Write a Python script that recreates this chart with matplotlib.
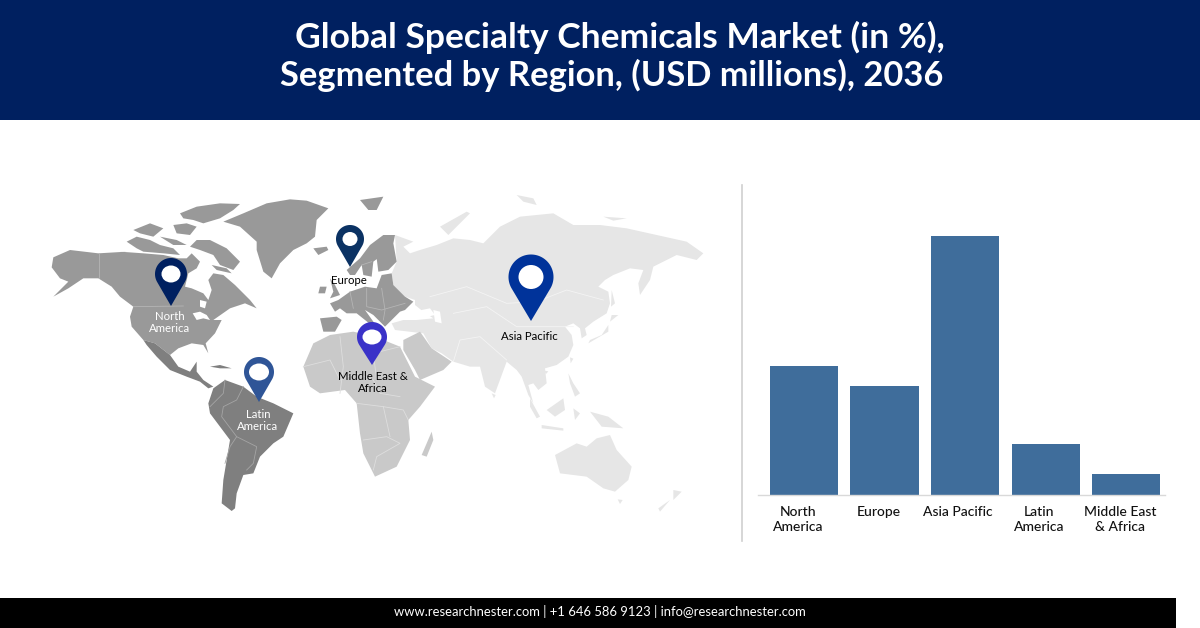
import numpy as np
import matplotlib
matplotlib.use('Agg')
import matplotlib.pyplot as plt
from matplotlib.patches import Polygon, Ellipse, Rectangle

plt.rcParams['font.family'] = ['Lato', 'DejaVu Sans']

title_lines = ['Global Specialty Chemicals Market (in %),',
               'Segmented by Region, (USD millions), 2036']
footer = 'www.researchnester.com | +1 646 586 9123 | info@researchnester.com'

regions = ['North\nAmerica', 'Europe', 'Asia Pacific', 'Latin\nAmerica', 'Middle East\n& Africa']
market = [129, 109, 259, 51, 21]

NA_COL = '#999999'
LA_COL = '#7f7f7f'
MEA_COL = '#c9c9c9'
APAC_COL = '#e6e6e6'

def crop(x0, y0, pts):
    return [(x0 + x / 3, y0 + y / 3) for x, y in pts]

def left(pts):
    return crop(40, 180, pts)

def right(pts):
    return crop(320, 180, pts)

def canada(pts):
    return crop(120, 190, pts)

def euro(pts):
    return crop(310, 220, pts)

north_america = left([(40,232),(90,210),(175,220),(260,215)]) + canada([(0,185),(70,190),(130,195),(175,205),(200,205),
    (215,190),(240,215),(230,235),(205,250),(195,290),(215,295),(250,310),(265,330),(275,300),(265,270),(280,250),
    (310,255),(345,285),(390,330),(410,355),(375,340)]) + left([(570,385),(520,420),(545,420),(525,460),(497,490),
    (505,520),(490,495),(455,490),(415,505),(390,525),(345,490),(310,480),(275,440),(270,410),(280,380),(240,350),
    (215,320),(175,295),(130,295),(85,325),(40,350),(85,305),(60,295),(35,262)])
greenland = canada([(310,95),(370,70),(440,40),(510,28)]) + left([(800,62),(865,85),(830,120),(825,170),(800,190),
    (760,210),(720,250),(695,295),(670,275),(650,210),(650,185),(600,140)])
arctic = [canada(p) for p in [
    [(180,70),(230,50),(300,40),(360,42),(340,60),(300,85),(250,100),(220,90),(190,85)],
    [(230,150),(270,150),(320,175),(360,215),(340,240),(300,225),(280,195),(240,180),(210,170)],
    [(160,105),(200,100),(230,110),(210,135),(170,130)],
    [(20,155),(50,140),(90,150),(120,165),(160,175),(180,195),(130,190),(70,185),(50,175)],
    [(40,120),(90,100),(130,115),(100,140),(60,130)],
    [(120,140),(170,150),(200,165),(160,165)],
    [(275,225),(320,235),(335,250),(290,240)]]]
lakes = [left(p) for p in [
    [(458,400),(480,395),(500,405),(510,420),(490,415),(470,420)],
    [(480,360),(500,365),(495,385),(480,380)]]]
mexico = left([(310,480),(345,490),(390,525),(415,560),(450,575),(470,545),(470,575),(490,600),(520,620),(505,625),
    (480,605),(440,590),(390,570),(350,530),(320,495)])
south_america = left([(520,625),(555,600),(610,620),(650,650),(700,670),(760,700),(730,770),(700,790),(660,830),
    (640,880),(610,885),(590,940),(585,985),(575,993),(545,970),(550,900),(570,780),(510,700),(505,670)])
caribbean = left([(510,560),(540,555),(575,565),(540,565)])

europe = [euro(p) for p in [
    [(30,295),(80,290),(95,300),(75,335),(40,335)],
    [(60,250),(85,240),(120,215),(165,200),(200,205),(215,165),(245,160),(250,195),(285,230),(310,245),(285,270),
     (270,275),(245,300),(225,320),(205,300),(190,285),(165,270),(195,312),(180,312),(140,280),(110,280),(90,265),(75,275)],
    [(120,165),(110,150),(150,115),(180,75),(220,45),(255,45),(250,70),(260,125),(235,150),(205,155),(200,115),(230,95),
     (190,125),(185,170),(160,165),(155,135),(135,165)],
    [(60,175),(75,195),(90,225),(60,235),(70,215)],
    [(30,200),(50,200),(45,220),(25,220)],
    [(10,85),(50,80),(55,90),(25,105)]]]
svalbard = right([(120,60),(190,50),(170,90),(145,90)])

africa = right([(-50,560),(-20,490),(30,465),(100,455),(165,470),(240,500),(285,590),(345,620),(300,680),(265,720),
    (270,780),(230,860),(165,890),(130,820),(120,760),(110,670),(75,630),(0,640),(-30,620)])
arabia = right([(250,480),(300,455),(335,505),(395,545),(370,570),(300,600),(285,570),(250,510)])
madagascar = right([(335,755),(340,780),(320,830),(305,825)])

asia = euro([(255,45),(310,65),(280,80),(300,100)]) + right([(300,210),(350,195),(400,175),(450,180),(490,190),
    (540,140),(600,110),(650,105),(700,100),(760,135),(840,135),(920,145),(1010,165),(1100,185),(1150,220),(1130,240),
    (1070,225),(1000,260),(990,300),(960,345),(955,310),(970,270),(930,265),(880,285),(855,300),(835,320),(865,335),
    (870,370),(860,400),(820,425),(795,445),(800,465),(785,475),(780,445),(760,430),(735,440),(755,465),(760,495),
    (745,530),(710,555),(675,565),(680,610),(655,630),(640,610),(625,615),(640,670),(625,645),(605,590),(590,570),
    (560,545),(525,640),(495,620),(480,560),(450,560),(400,545),(365,520),(335,505),(310,460),
    (225,450),(215,430),(250,420),(290,420),(340,415),(310,395),(285,375),(285,360)]) + euro([(285,230),(250,195),(245,160),(260,125)])
asia_bits = [right(p) for p in [
    [(630,655),(660,710),(650,715),(630,680)],
    [(665,735),(730,745),(730,752),(665,745)],
    [(680,690),(730,655),(735,690),(705,710)],
    [(760,685),(780,700),(765,720)],
    [(810,695),(865,710),(910,745),(845,740)],
    [(745,580),(760,610),(780,640),(765,650),(750,610)],
    [(705,825),(770,790),(800,800),(830,775),(870,765),(890,810),(935,860),(925,900),(885,935),(850,925),(800,890),(720,880)],
    [(893,958),(908,960),(900,972)],
    [(1060,930),(1085,935),(1060,960)],
    [(1050,960),(1020,995),(1015,985)],
    [(360,140),(440,95),(450,100),(385,165)],
    [(515,640),(527,645),(522,655)],
    [(750,532),(760,536),(752,550)],
    [(672,572),(685,574),(678,582)],
    [(590,45),(640,55),(650,75),(610,65)],
    [(850,110),(920,115),(880,122)],
    [(875,330),(885,370),(873,380)],
    [(875,405),(895,405),(870,425)],
    [(865,435),(845,465),(810,480),(805,490),(865,455)]]]
inland_seas = [right(p) for p in [
    [(280,395),(330,385),(345,405),(300,415)],
    [(340,390),(360,395),(365,430),(345,425)]]]

# thin country lines
borders = [
    (left([(178,220),(178,295)]), '#b5b5b5'),
    (left([(280,380),(430,378)]), '#b5b5b5'),
    (left([(555,600),(550,640),(510,680)]), '#a5a5a5'),
    (left([(610,620),(590,660),(550,680),(545,710),(590,770),(570,800),(555,850)]), '#a5a5a5'),
    (left([(590,770),(650,800),(640,850),(620,870)]), '#a5a5a5'),
    (right([(-50,560),(30,540),(60,600),(110,580),(160,600),(180,640),(240,650)]), '#dedede'),
    (right([(60,470),(70,560),(60,640)]), '#dedede'),
    (right([(240,500),(160,520),(170,600)]), '#dedede'),
    (right([(110,670),(190,680),(250,690),(265,720)]), '#dedede'),
    (right([(130,780),(200,770),(240,790),(170,830),(160,870)]), '#dedede'),
    (right([(190,680),(210,770)]), '#dedede'),
    (euro([(120,215),(130,265)]), '#b5b5b5'),
    (euro([(170,205),(170,260),(215,270),(285,250)]), '#b5b5b5'),
    (euro([(215,205),(225,270),(220,300)]), '#b5b5b5'),
    (euro([(155,135),(185,125)]), '#b5b5b5'),
    (right([(330,350),(440,320),(560,370),(650,365),(740,330),(850,360)]), '#f4f4f4'),
    (right([(400,400),(500,380),(590,440),(760,440)]), '#f4f4f4'),
    (right([(400,545),(420,480),(480,470),(560,540)]), '#f4f4f4'),
]

# cx, cy, radius, tip y, hole rx, hole ry, colour
pins = [
    (171, 274, 16, 306, 9.5, 8.5, '#002060'),
    (350, 239, 14, 267, 7.5, 7, '#0b3263'),
    (259, 372, 15, 402, 10, 8.5, '#2f5597'),
    (372, 337, 15, 365, 9.5, 7.5, '#3a32c8'),
    (531, 277, 22.5, 321, 12.5, 12, '#00339a'),
]

labels = [
    (170, 316, 'North', 'white'), (170, 328, 'America', 'white'),
    (349, 281, 'Europe', 'black'),
    (258, 414, 'Latin', 'white'), (258, 426, 'America', 'white'),
    (529, 336, 'Asia Pacific', 'black'),
    (373, 376, 'Middle East &', 'black'), (373, 388, 'Africa', 'black'),
]

def pin_outline(cx, cy, r, tip_y):
    # circle with the two tangents running down to the tip
    a = np.arccos(r / (tip_y - cy))
    t = np.linspace(np.pi / 2 + a, np.pi * 2.5 - a, 80)
    xs = cx + r * np.cos(t)
    ys = cy + r * np.sin(t)
    return np.vstack([[cx, tip_y], np.column_stack([xs, ys])])

fig = plt.figure(figsize=(12, 6.28), dpi=100)
ax = fig.add_axes([0, 0, 1, 1])
ax.set_xlim(0, 1200)
ax.set_ylim(628, 0)
ax.axis('off')

ax.add_patch(Rectangle((0, 0), 1200, 120, color='#002060', lw=0))
ax.add_patch(Rectangle((0, 598), 1176, 30, color='black', lw=0))

ax.text(620, 37.5, title_lines[0], color='white', fontsize=25.5, fontweight='bold', ha='center', va='center')
ax.text(612, 75.5, title_lines[1], color='white', fontsize=24.8, fontweight='bold', ha='center', va='center')
ax.text(600, 612, footer, color='white', fontsize=9.35, ha='center', va='center')

for shape in [asia] + asia_bits:
    ax.add_patch(Polygon(shape, fc=APAC_COL, lw=0))
for shape in [north_america, greenland, svalbard] + arctic + europe:
    ax.add_patch(Polygon(shape, fc=NA_COL, lw=0))
for shape in [mexico, south_america, caribbean]:
    ax.add_patch(Polygon(shape, fc=LA_COL, lw=0))
for shape in [africa, arabia, madagascar]:
    ax.add_patch(Polygon(shape, fc=MEA_COL, lw=0))
for shape in lakes + inland_seas:
    ax.add_patch(Polygon(shape, fc='white', lw=0))
for line, col in borders:
    xs, ys = zip(*line)
    ax.plot(xs, ys, color=col, lw=0.6)

for cx, cy, r, tip_y, hx, hy, col in pins:
    ax.add_patch(Polygon(pin_outline(cx, cy, r, tip_y), fc=col, lw=0, zorder=5))
    ax.add_patch(Ellipse((cx, cy), 2 * hx, 2 * hy, fc='white', lw=0, zorder=6))
for x, y, s, col in labels:
    ax.text(x, y, s, color=col, fontsize=8.2, ha='center', va='center', zorder=7)

ax.plot([742, 742], [185, 541], color='#cfcfcf', lw=1.2)

# bar panel, left 758 right 1165, baseline at y 495
bar_ax = fig.add_axes([758 / 1200, 1 - 495 / 628, 407 / 1200, 295 / 628])
bar_ax.patch.set_alpha(0)
pos = np.arange(len(regions))
bar_ax.bar(pos, market, width=0.845, color='#3f6d9b')
bar_ax.set_xlim(-0.57, 4.48)
bar_ax.set_ylim(0, 295)
bar_ax.set_yticks([])
# the labels sit a little left of their bars
bar_ax.set_xticks(pos - np.array([0.07, 0.07, 0.09, 0.08, 0.08]))
bar_ax.set_xticklabels(regions, fontsize=10, fontweight='medium', color='#111111', linespacing=1.25)
bar_ax.tick_params(axis='x', length=0, pad=8)
for side in ['top', 'left', 'right']:
    bar_ax.spines[side].set_visible(False)
bar_ax.spines['bottom'].set_color('#d9d9d9')
bar_ax.spines['bottom'].set_linewidth(1)

fig.savefig('out.png', dpi=100)
